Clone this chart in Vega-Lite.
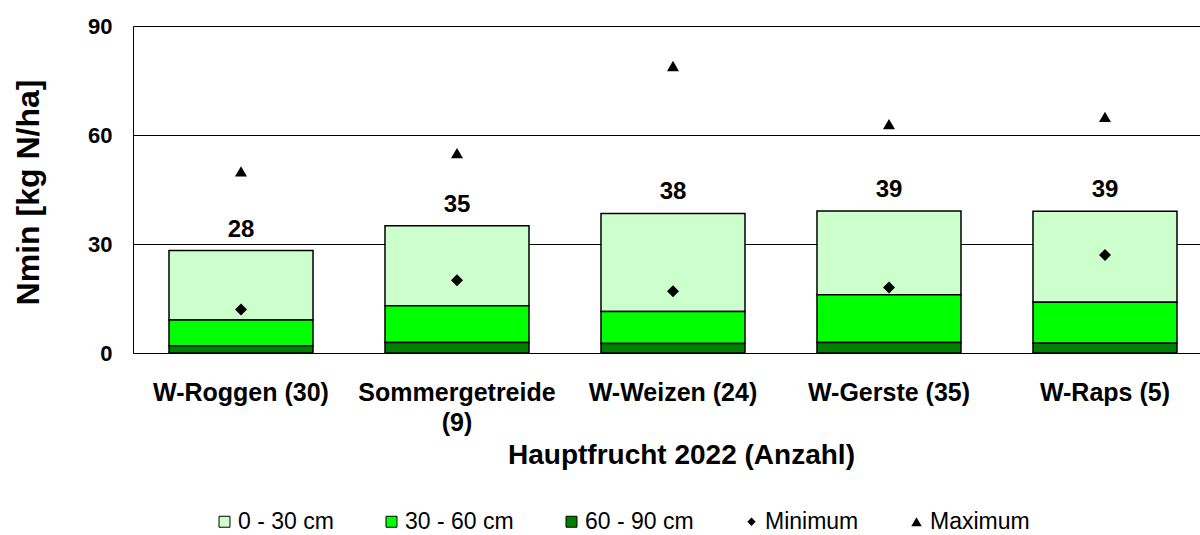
{
  "$schema": "https://vega.github.io/schema/vega-lite/v6.json",
  "width": 1067,
  "height": 327,
  "autosize": {"type": "none"},
  "padding": {"left": 133, "top": 26, "right": 0, "bottom": 182},
  "background": "white",
  "config": {
    "view": {"stroke": null},
    "font": "Liberation Sans",
    "axis": {"labelColor": "#000", "titleColor": "#000", "domainColor": "#000", "labelFont": "Liberation Sans", "titleFont": "Liberation Sans"}
  },
  "datasets": {
    "schichten": [
      {"Hauptfrucht": "W-Roggen (30)", "Serie": "0 - 30 cm", "Nmin": 19.1},
      {"Hauptfrucht": "W-Roggen (30)", "Serie": "30 - 60 cm", "Nmin": 7.1},
      {"Hauptfrucht": "W-Roggen (30)", "Serie": "60 - 90 cm", "Nmin": 2.0},
      {"Hauptfrucht": "Sommergetreide (9)", "Serie": "0 - 30 cm", "Nmin": 22.0},
      {"Hauptfrucht": "Sommergetreide (9)", "Serie": "30 - 60 cm", "Nmin": 10.1},
      {"Hauptfrucht": "Sommergetreide (9)", "Serie": "60 - 90 cm", "Nmin": 2.9},
      {"Hauptfrucht": "W-Weizen (24)", "Serie": "0 - 30 cm", "Nmin": 27.0},
      {"Hauptfrucht": "W-Weizen (24)", "Serie": "30 - 60 cm", "Nmin": 8.8},
      {"Hauptfrucht": "W-Weizen (24)", "Serie": "60 - 90 cm", "Nmin": 2.6},
      {"Hauptfrucht": "W-Gerste (35)", "Serie": "0 - 30 cm", "Nmin": 23.1},
      {"Hauptfrucht": "W-Gerste (35)", "Serie": "30 - 60 cm", "Nmin": 13.1},
      {"Hauptfrucht": "W-Gerste (35)", "Serie": "60 - 90 cm", "Nmin": 2.9},
      {"Hauptfrucht": "W-Raps (5)", "Serie": "0 - 30 cm", "Nmin": 25.0},
      {"Hauptfrucht": "W-Raps (5)", "Serie": "30 - 60 cm", "Nmin": 11.3},
      {"Hauptfrucht": "W-Raps (5)", "Serie": "60 - 90 cm", "Nmin": 2.7}
    ],
    "kennwerte": [
      {"Hauptfrucht": "W-Roggen (30)", "Gesamt": 28.2, "Minimum": 12, "Maximum": 50},
      {"Hauptfrucht": "Sommergetreide (9)", "Gesamt": 35.0, "Minimum": 20, "Maximum": 55},
      {"Hauptfrucht": "W-Weizen (24)", "Gesamt": 38.4, "Minimum": 17, "Maximum": 79},
      {"Hauptfrucht": "W-Gerste (35)", "Gesamt": 39.1, "Minimum": 18, "Maximum": 63},
      {"Hauptfrucht": "W-Raps (5)", "Gesamt": 39.0, "Minimum": 27, "Maximum": 65}
    ]
  },
  "layer": [
    {
      "data": {"name": "schichten"},
      "mark": {"type": "bar", "stroke": "#000", "strokeWidth": 1.5},
      "encoding": {
        "x": {
          "field": "Hauptfrucht", "type": "nominal",
          "sort": ["W-Roggen (30)", "Sommergetreide (9)", "W-Weizen (24)", "W-Gerste (35)", "W-Raps (5)"],
          "scale": {"paddingInner": 0.3333, "paddingOuter": 0.1366, "align": 0.61},
          "axis": {
            "title": "Hauptfrucht 2022 (Anzahl)", "titleFontSize": 28, "titleFontWeight": "bold",
            "titleX": 548, "titleY": 110, "titleBaseline": "alphabetic", "titleAnchor": null,
            "labelFontSize": 25, "labelFontWeight": "bold", "labelAngle": 0, "labelPadding": 27,
            "labelLimit": 400, "labelOverlap": false, "labelLineHeight": 30, "ticks": false,
            "labelExpr": "datum.value == 'Sommergetreide (9)' ? ['Sommergetreide', '(9)'] : datum.value"
          }
        },
        "y": {
          "field": "Nmin", "type": "quantitative", "stack": "zero",
          "scale": {"domain": [0, 90], "nice": false},
          "axis": {
            "title": "Nmin [kg N/ha]", "titleFontSize": 32, "titleFontWeight": "bold",
            "titleX": -105, "titleY": 166, "titleAlign": "center", "titleBaseline": "middle", "titleAngle": -90,
            "values": [0, 30, 60, 90], "labelFontSize": 22, "labelFontWeight": "bold", "labelPadding": 21,
            "ticks": false, "grid": true, "gridColor": "#000", "gridWidth": 1, "gridOpacity": 1
          }
        },
        "fill": {
          "field": "Serie", "type": "nominal",
          "scale": {
            "domain": ["0 - 30 cm", "30 - 60 cm", "60 - 90 cm", "Minimum", "Maximum"],
            "range": ["#CCFFCC", "#00FF00", "#008000", "#000000", "#000000"]
          },
          "legend": {
            "orient": "none", "legendX": 80, "legendY": 484, "direction": "horizontal", "columns": 5,
            "title": null, "labelFontSize": 23, "labelColor": "#000", "labelFont": "Liberation Sans",
            "labelOffset": 2, "columnPadding": 46, "symbolType": "square", "symbolSize": 120,
            "symbolStrokeColor": "#000", "symbolStrokeWidth": 1,
            "encode": {
              "symbols": {
                "update": {
                  "shape": {"signal": "datum.value === 'Minimum' ? 'diamond' : datum.value === 'Maximum' ? 'triangle-up' : 'square'"},
                  "size": {"signal": "datum.value === 'Minimum' ? 70 : datum.value === 'Maximum' ? 110 : 120"},
                  "strokeWidth": {"signal": "datum.value === 'Minimum' || datum.value === 'Maximum' ? 0 : 1"},
                  "stroke": {"value": "#000"},
                  "opacity": {"value": 1},
                  "fillOpacity": {"value": 1}
                }
              }
            }
          }
        },
        "order": {"field": "Serie", "sort": "descending"}
      }
    },
    {
      "data": {"name": "kennwerte"},
      "transform": [{"fold": ["Minimum", "Maximum"], "as": ["Serie", "Nmin"]}],
      "mark": {"type": "point", "filled": true, "opacity": 1, "strokeWidth": 0},
      "encoding": {
        "x": {"field": "Hauptfrucht", "type": "nominal", "sort": ["W-Roggen (30)", "Sommergetreide (9)", "W-Weizen (24)", "W-Gerste (35)", "W-Raps (5)"]},
        "y": {"field": "Nmin", "type": "quantitative"},
        "fill": {"field": "Serie", "type": "nominal"},
        "shape": {"field": "Serie", "type": "nominal", "scale": {"domain": ["Minimum", "Maximum"], "range": ["diamond", "triangle-up"]}, "legend": null},
        "size": {"value": 144}
      }
    },
    {
      "data": {"name": "kennwerte"},
      "mark": {"type": "text", "dy": -21, "fontSize": 24, "fontWeight": "bold", "color": "#000", "baseline": "middle"},
      "encoding": {
        "x": {"field": "Hauptfrucht", "type": "nominal", "sort": ["W-Roggen (30)", "Sommergetreide (9)", "W-Weizen (24)", "W-Gerste (35)", "W-Raps (5)"]},
        "y": {"field": "Gesamt", "type": "quantitative"},
        "text": {"field": "Gesamt", "type": "quantitative", "format": ".0f"}
      }
    }
  ]
}
